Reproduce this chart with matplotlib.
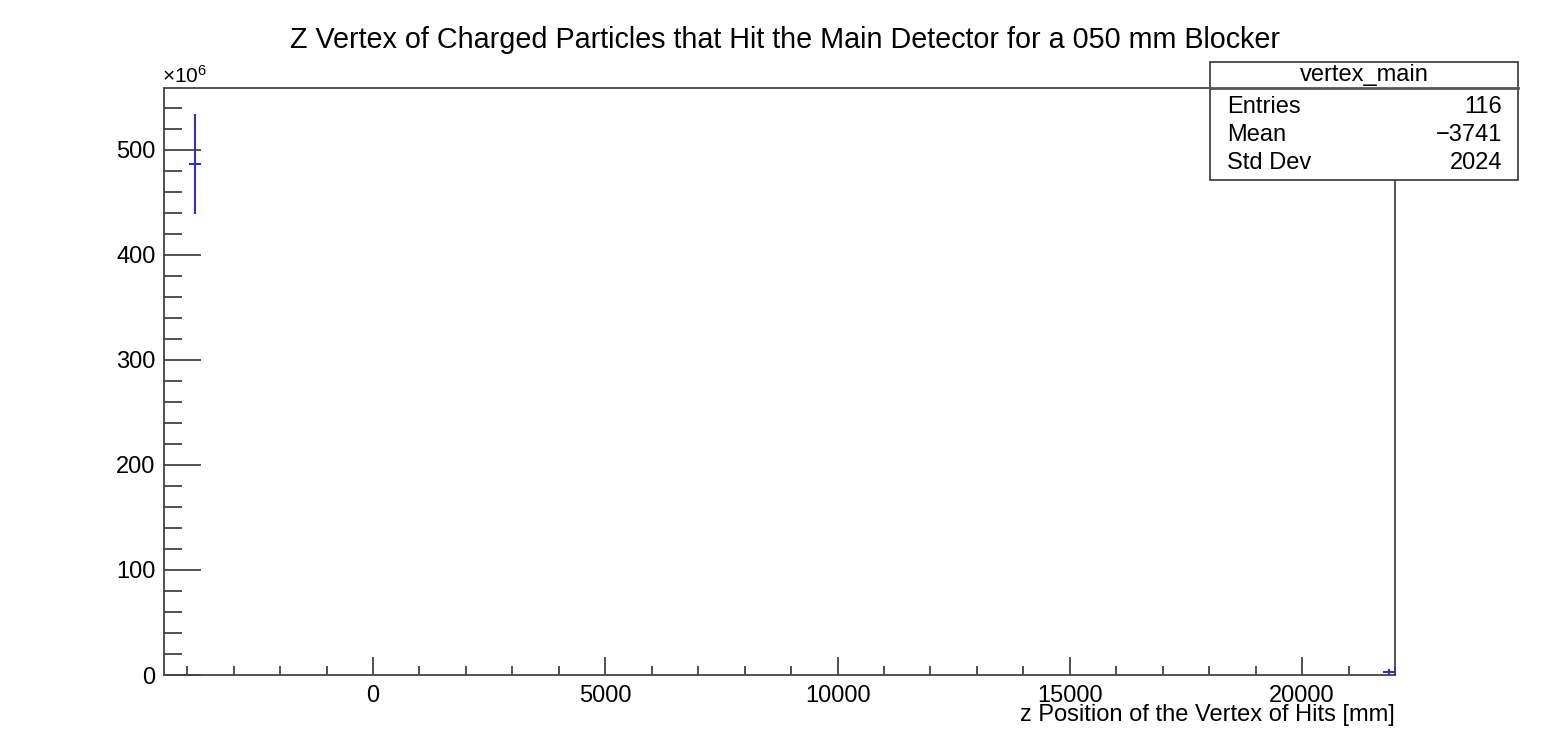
import matplotlib
matplotlib.use('Agg')
import matplotlib.pyplot as plt
from matplotlib.patches import Rectangle
from matplotlib.lines import Line2D
from matplotlib.ticker import MultipleLocator, FuncFormatter

plt.rcParams['font.family'] = ['Liberation Sans', 'DejaVu Sans']
plt.rcParams['mathtext.fontset'] = 'custom'
plt.rcParams['mathtext.rm'] = 'Liberation Sans'
plt.rcParams['mathtext.default'] = 'rm'

# histogram: 100 bins from -4500 to 22000 mm, only non-empty bins listed
x_min = -4500
x_max = 22000
n_bins = 100
bin_width = (x_max - x_min) / n_bins
filled_bins = [2, 99]
bin_counts = [486.7e6, 2.5e6]
bin_errors = [47.5e6, 3.5e6]
y_max = 559e6

stat_name = 'vertex_main'
stat_labels = ['Entries', 'Mean', 'Std Dev']
stat_values = ['116', '\u22123741', '2024']

title = 'Z Vertex of Charged Particles that Hit the Main Detector for a 050 mm Blocker'
x_title = 'z Position of the Vertex of Hits [mm]'

W, H = 1556, 756
fig = plt.figure(figsize=(W / 100, H / 100), dpi=100)

def fx(px):
    return px / W

def fy(py):
    return 1 - py / H

ax = fig.add_axes([fx(164), fy(675), fx(1395) - fx(164), fy(88) - fy(675)])

centers = [x_min + (b + 0.5) * bin_width for b in filled_bins]
blue = '#2f2fcc'
ax.errorbar(centers, bin_counts, xerr=bin_width / 2, yerr=bin_errors,
            fmt='none', ecolor=blue, elinewidth=1.5, capsize=0)

ax.set_xlim(x_min, x_max)
ax.set_ylim(0, y_max)

ax.xaxis.set_major_locator(MultipleLocator(5000))
ax.xaxis.set_minor_locator(MultipleLocator(1000))
ax.yaxis.set_major_locator(MultipleLocator(100e6))
ax.yaxis.set_minor_locator(MultipleLocator(20e6))
ax.yaxis.set_major_formatter(FuncFormatter(lambda v, p: '%d' % round(v / 1e6)))

ax.tick_params(axis='both', which='both', direction='in', colors='#333333',
               labelcolor='black', labelsize=17, top=False, right=False)
ax.tick_params(axis='x', which='major', length=13, width=1.2, pad=7)
ax.tick_params(axis='x', which='minor', length=6.5, width=1.2)
ax.tick_params(axis='y', which='major', length=26.5, width=1.2, pad=6)
ax.tick_params(axis='y', which='minor', length=13, width=1.2)

for s in ax.spines.values():
    s.set_color('#444444')
    s.set_linewidth(1.3)

fig.text(fx(162), fy(76), '\u00d710$^{6}$', fontsize=15, ha='left', va='center')
fig.text(fx(785), fy(40), title, fontsize=20.7, ha='center', va='center')
fig.text(fx(1395), fy(715), x_title, fontsize=17, ha='right', va='center')

# stats box
fig.patches.append(Rectangle((fx(1210), fy(180)), fx(1518) - fx(1210), fy(62) - fy(180),
                             transform=fig.transFigure, facecolor='white',
                             edgecolor='#444444', linewidth=1.3, zorder=5))
fig.lines.append(Line2D([fx(1210), fx(1518)], [fy(88), fy(88)],
                        transform=fig.transFigure, color='#555555', linewidth=2, zorder=6))
fig.text(fx(1364), fy(75), stat_name, fontsize=17, ha='center', va='center', zorder=7)
row_y = [107, 135, 163]
for lab, val, yy in zip(stat_labels, stat_values, row_y):
    fig.text(fx(1227), fy(yy), lab, fontsize=17, ha='left', va='center', zorder=7)
    fig.text(fx(1502), fy(yy), val, fontsize=17, ha='right', va='center', zorder=7)

fig.savefig('out.png', dpi=100)
